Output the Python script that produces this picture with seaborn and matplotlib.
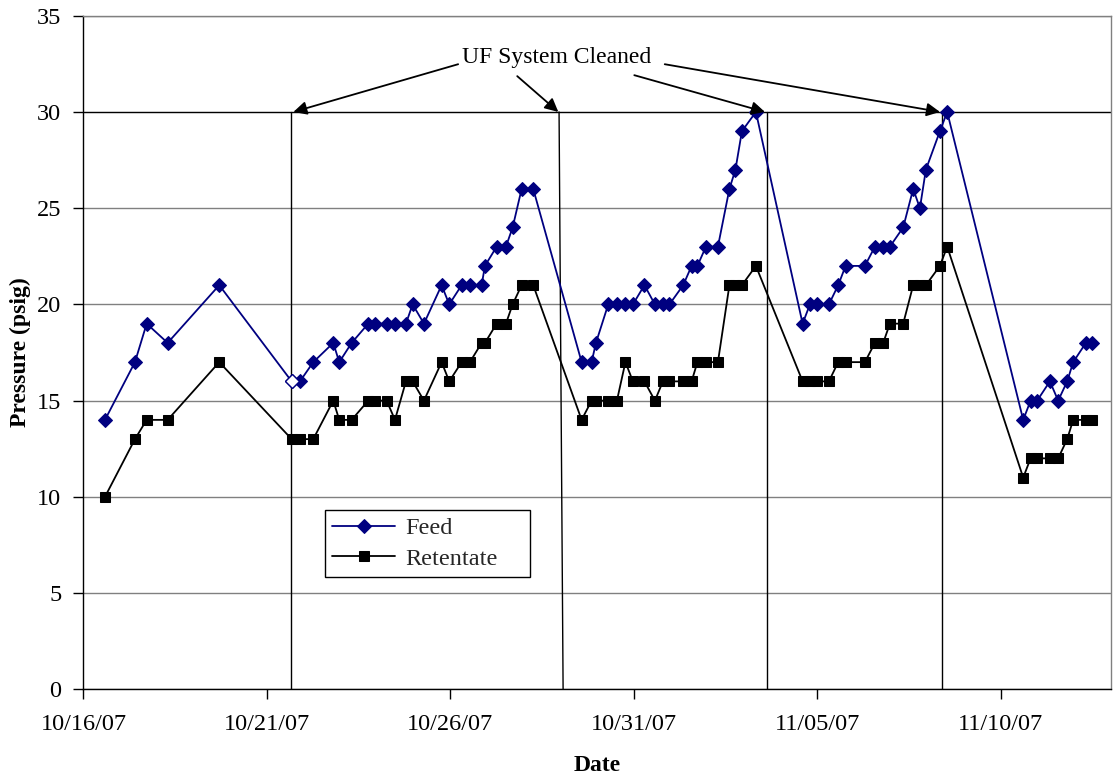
import numpy as np
import pandas as pd
import matplotlib
matplotlib.use("Agg")
import matplotlib.pyplot as plt
import matplotlib.dates as mdates
import seaborn as sns

# ---- data ----
start_date = "2007-10-16"
day_offsets = [
    0.586, 1.403, 1.722, 2.294, 3.700, 5.673, 5.899, 6.262, 6.807, 6.970, 7.308,
    7.760, 7.943, 8.262, 8.488, 8.787, 8.970, 9.278, 9.760, 9.967, 10.305, 10.531,
    10.850, 10.940, 11.259, 11.512, 11.695, 11.940, 12.256,
    13.575, 13.847, 13.965, 14.300, 14.537, 14.768, 14.973, 15.286, 15.572, 15.790,
    15.967, 16.343, 16.572, 16.730, 16.962, 17.289, 17.602, 17.766, 17.943, 18.324,
    19.597, 19.796, 19.995, 20.313, 20.567, 20.768, 21.294, 21.567, 21.793, 21.975,
    22.338, 22.610, 22.793, 22.956, 23.338, 23.537,
    25.608, 25.810, 25.989, 26.335, 26.561, 26.807, 26.970, 27.316, 27.488,
]
feed = [
    14, 17, 19, 18, 21, 16, 16, 17, 18, 17, 18, 19, 19, 19, 19, 19, 20, 19, 21, 20,
    21, 21, 21, 22, 23, 23, 24, 26, 26,
    17, 17, 18, 20, 20, 20, 20, 21, 20, 20, 20, 21, 22, 22, 23, 23, 26, 27, 29, 30,
    19, 20, 20, 20, 21, 22, 22, 23, 23, 23, 24, 26, 25, 27, 29, 30,
    14, 15, 15, 16, 15, 16, 17, 18, 18,
]
retentate = [
    10, 13, 14, 14, 17, 13, 13, 13, 15, 14, 14, 15, 15, 15, 14, 16, 16, 15, 17, 16,
    17, 17, 18, 18, 19, 19, 20, 21, 21,
    14, 15, 15, 15, 15, 17, 16, 16, 15, 16, 16, 16, 16, 17, 17, 17, 21, 21, 21, 22,
    16, 16, 16, 16, 17, 17, 17, 18, 18, 19, 19, 21, 21, 21, 22, 23,
    11, 12, 12, 12, 12, 13, 14, 14, 14,
]
series_names = ["Feed", "Retentate"]
xtick_dates = ["2007-10-16", "2007-10-21", "2007-10-26", "2007-10-31", "2007-11-05", "2007-11-10"]
y_ticks = [0, 5, 10, 15, 20, 25, 30, 35]
annotation_text = "UF System Cleaned"
# cleaning events: vertical line day at top / bottom, arrow tip day, arrow start (day, y)
clean_top = [5.65, 12.96, 18.62, 23.40]
clean_bottom = [5.65, 13.07, 18.62, 23.40]
arrow_tip = [5.72, 12.94, 18.57, 23.34]
arrow_start_x = [10.21, 11.82, 15.01, 15.84]
arrow_start_y = [32.48, 31.86, 31.91, 32.48]

# ---- figure ----
sns.set_theme(style="white")
plt.rcParams["font.family"] = ["Liberation Serif", "DejaVu Serif"]

start = pd.Timestamp(start_date)
dates = start + pd.to_timedelta(day_offsets, unit="D")
df = pd.DataFrame({"Date": dates, "Feed": feed, "Retentate": retentate})

fig = plt.figure(figsize=(11.16, 7.78), dpi=100)
ax = fig.add_axes([0.0748, 0.1140, 0.9207, 0.8658])

navy = "#000080"
ax.set_ylim(0, 35)
ax.set_xlim(mdates.date2num(start), mdates.date2num(start + pd.Timedelta(days=28)))
ax.set_yticks(y_ticks)
ax.grid(axis="y", color="#808080", linewidth=1.0)
ax.grid(axis="x", visible=False)
ax.set_axisbelow(True)

# black line at 30 and vertical "cleaned" lines
ax.axhline(30, color="black", linewidth=0.9, zorder=1)
for t, b in zip(clean_top, clean_bottom):
    xt = mdates.date2num(start + pd.Timedelta(days=t))
    xb = mdates.date2num(start + pd.Timedelta(days=b))
    ax.plot([xb, xt], [0, 30], color="black", linewidth=1.0, zorder=1.5)

sns.lineplot(data=df, x="Date", y="Feed", ax=ax, color=navy, marker="D",
             markersize=7, markeredgecolor=navy, markerfacecolor=navy,
             linewidth=1.3, label=series_names[0], sort=False, zorder=3)
sns.lineplot(data=df, x="Date", y="Retentate", ax=ax, color="black", marker="s",
             markersize=7.7, markeredgecolor="black", markerfacecolor="black",
             linewidth=1.3, label=series_names[1], sort=False, zorder=3)
# hollow marker on the first point after the first cleaning
ax.plot(df["Date"].iloc[5], df["Feed"].iloc[5], marker="D", markersize=7,
        markerfacecolor="white", markeredgecolor=navy, linestyle="none", zorder=3.5)

# annotation text + arrows
text_x = mdates.date2num(start + pd.Timedelta(days=12.90))
ax.text(text_x, 32.85, annotation_text, ha="center", va="center", fontsize=17,
        color="black", zorder=5)
for tip, sx, sy in zip(arrow_tip, arrow_start_x, arrow_start_y):
    ax.annotate("", xy=(mdates.date2num(start + pd.Timedelta(days=tip)), 30),
                xytext=(mdates.date2num(start + pd.Timedelta(days=sx)), sy),
                arrowprops=dict(arrowstyle="-|>", color="black", lw=1.3,
                                mutation_scale=20, shrinkA=0, shrinkB=0),
                zorder=5)

# axes formatting
ax.set_xticks([mdates.date2num(pd.Timestamp(d)) for d in xtick_dates])
ax.xaxis.set_major_formatter(mdates.DateFormatter("%m/%d/%y"))
ax.tick_params(axis="both", which="major", direction="out", length=7, width=1,
               color="black", labelsize=17.5, left=True, bottom=True)
ax.tick_params(axis="x", pad=11)
ax.tick_params(axis="y", pad=9)
for lab in ax.get_xticklabels() + ax.get_yticklabels():
    lab.set_color("black")

for side in ["left", "bottom"]:
    ax.spines[side].set_color("black")
    ax.spines[side].set_linewidth(1.0)
for side in ["top", "right"]:
    ax.spines[side].set_color("#808080")
    ax.spines[side].set_linewidth(1.0)

ax.set_xlabel("Date", fontsize=17, fontweight="bold", color="black", labelpad=14)
ax.set_ylabel("Pressure (psig)", fontsize=17, fontweight="bold", color="black", labelpad=4)

leg = ax.legend(loc="upper left", bbox_to_anchor=(0.235, 0.17, 0.1995, 0.096),
                mode="expand", frameon=True,
                fancybox=False, edgecolor="black", framealpha=1, fontsize=17.5,
                handlelength=2.6, handletextpad=0.4, borderpad=0.3,
                labelspacing=0.35, borderaxespad=0)
leg.get_frame().set_linewidth(1.0)

fig.savefig("out.png", dpi=100, facecolor="white")
